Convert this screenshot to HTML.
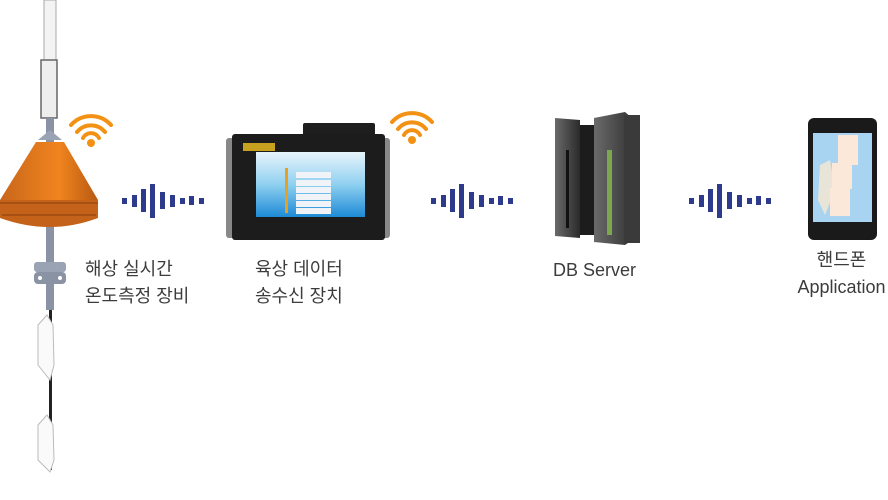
<!DOCTYPE html>
<html><head><meta charset="utf-8"><style>
body{margin:0;width:888px;height:500px;background:#fff;position:relative;overflow:hidden;font-family:"Liberation Sans","Noto Sans CJK KR",sans-serif;}
.t{position:absolute;font-size:18px;color:#3c3c3c;line-height:27px;white-space:nowrap;}
</style></head><body>
<svg width="888" height="500" style="position:absolute;left:0;top:0">
<defs>
<linearGradient id="or" x1="0" x2="1"><stop offset="0" stop-color="#c8661a"/><stop offset="0.6" stop-color="#f0841f"/><stop offset="1" stop-color="#b85a12"/></linearGradient>
<linearGradient id="scr" x1="0" y1="0" x2="0" y2="1"><stop offset="0" stop-color="#e8f4fb"/><stop offset="0.5" stop-color="#8fd0f0"/><stop offset="1" stop-color="#1d8ad6"/></linearGradient>
<linearGradient id="sv" x1="0" x2="1"><stop offset="0" stop-color="#6a6a6a"/><stop offset="0.5" stop-color="#4a4a4a"/><stop offset="1" stop-color="#2a2a2a"/></linearGradient>
</defs>
<rect x="44" y="0" width="12" height="60" fill="#f3f3f3" stroke="#aaa"/>
<rect x="41" y="60" width="16" height="58" fill="#eee" stroke="#666" stroke-width="1.5"/>
<rect x="46" y="118" width="8" height="192" fill="#8a93a3"/>
<path d="M38 140 L50 130 L62 140 Z" fill="#9aa3b3"/>
<path d="M36 142 L64 142 L98 200 L0 200 Z" fill="url(#or)"/>
<path d="M0 200 L98 200 L98 218 Q50 236 0 218 Z" fill="#c4621a"/>
<line x1="0" y1="203" x2="98" y2="203" stroke="#8a3d0c" stroke-width="1"/>
<line x1="2" y1="215" x2="96" y2="215" stroke="#8a3d0c" stroke-width="1"/>
<rect x="34" y="262" width="32" height="10" rx="3" fill="#9aa3b3"/>
<rect x="34" y="272" width="32" height="12" rx="4" fill="#8a93a3"/>
<circle cx="40" cy="278" r="2" fill="#fff"/><circle cx="60" cy="278" r="2" fill="#fff"/>
<rect x="49" y="310" width="3" height="160" fill="#222"/>
<path d="M38 325 L47 315 L53 325 L54 365 L50 380 L38 365 Z" fill="#fafafa" stroke="#bbb"/>
<path d="M38 425 L47 415 L53 425 L54 460 L50 472 L38 460 Z" fill="#fafafa" stroke="#bbb"/>
<g fill="none" stroke="#f39114" stroke-width="4" stroke-linecap="round">
<path d="M71 125 A27 27 0 0 1 111 125"/><path d="M77 132 A18 18 0 0 1 105 132"/><path d="M83 138 A9 9 0 0 1 99 138"/>
<path d="M392 122 A27 27 0 0 1 432 122"/><path d="M398 129 A18 18 0 0 1 426 129"/><path d="M404 135 A9 9 0 0 1 420 135"/>
</g>
<circle cx="91" cy="143" r="4" fill="#f39114"/><circle cx="412" cy="140" r="4" fill="#f39114"/>
<g id="w" fill="#2e3a8c">
<rect x="122" y="198" width="5" height="6"/><rect x="132" y="195" width="5" height="12"/><rect x="141" y="189" width="5" height="23"/><rect x="150" y="184" width="5" height="34"/><rect x="160" y="192" width="5" height="17"/><rect x="170" y="195" width="5" height="12"/><rect x="180" y="198" width="5" height="6"/><rect x="189" y="196" width="5" height="9"/><rect x="199" y="198" width="5" height="6"/>
</g>
<use href="#w" x="309" y="0"/>
<use href="#w" x="567" y="0"/>
<rect x="303" y="123" width="72" height="14" rx="2" fill="#1e1e1e"/>
<rect x="226" y="138" width="8" height="100" rx="3" fill="#888"/>
<rect x="382" y="138" width="8" height="100" rx="3" fill="#888"/>
<rect x="232" y="134" width="153" height="106" rx="3" fill="#1c1c1c"/>
<rect x="243" y="143" width="32" height="8" fill="#c8a020"/>
<rect x="256" y="152" width="109" height="65" fill="url(#scr)"/>
<g fill="#f0f4f8"><rect x="296" y="172" width="35" height="6"/><rect x="296" y="180" width="35" height="6"/><rect x="296" y="187" width="35" height="6"/><rect x="296" y="194" width="35" height="6"/><rect x="296" y="201" width="35" height="6"/><rect x="296" y="208" width="35" height="6"/></g>
<rect x="285" y="168" width="3" height="45" fill="#e8a020"/>
<path d="M555 118 L580 120 L580 238 L555 236 Z" fill="url(#sv)"/>
<rect x="580" y="125" width="14" height="110" fill="#1c1c1c"/>
<path d="M594 118 L625 112 L640 125 L640 235 L625 245 L594 242 Z" fill="url(#sv)"/>
<rect x="624" y="115" width="16" height="128" fill="#3a3a3a"/>
<rect x="566" y="150" width="3" height="78" fill="#111"/>
<rect x="607" y="150" width="5" height="85" fill="#7ba84e"/>
<rect x="808" y="118" width="69" height="122" rx="6" fill="#1a1a1a"/>
<rect x="813" y="133" width="59" height="89" fill="#a8d4f2"/>
<path d="M820 165 L830 160 L835 190 L825 215 L818 200 Z" fill="#e8e4d8"/>
<rect x="838" y="135" width="20" height="30" fill="#fbe8d8"/>
<rect x="832" y="163" width="20" height="26" fill="#fbe8d8"/>
<rect x="830" y="188" width="20" height="28" fill="#fbe8d8"/>
</svg>
<div class="t" style="left:85px;top:256px">해상 실시간<br>온도측정 장비</div>
<div class="t" style="left:255px;top:256px">육상 데이터<br>송수신 장치</div>
<div class="t" style="left:553px;top:257px">DB Server</div>
<div class="t" style="left:795px;top:247px;width:93px;text-align:center">핸드폰<br>Application</div>
</body></html>
